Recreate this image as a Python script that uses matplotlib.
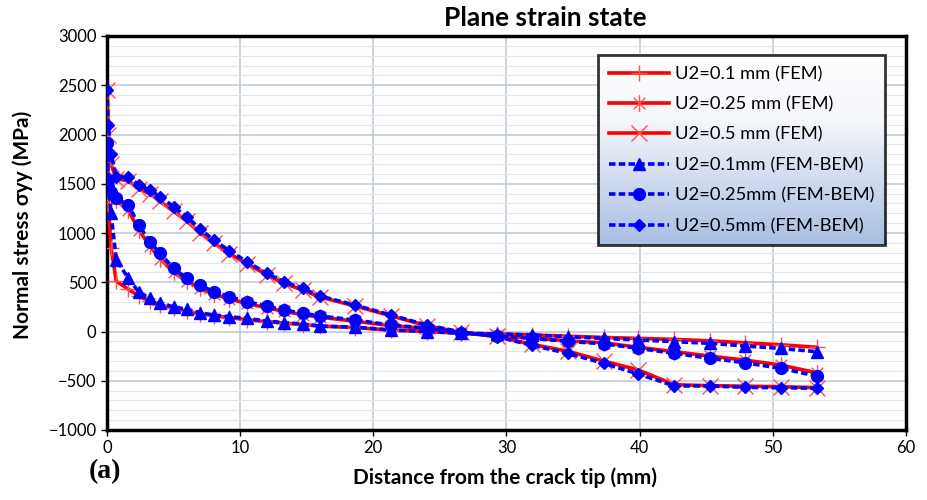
import numpy as np
import matplotlib
matplotlib.use("Agg")
import matplotlib.pyplot as plt
from matplotlib.path import Path
from matplotlib.colors import LinearSegmentedColormap

plt.rcParams["font.family"] = ["Lato", "DejaVu Sans"]

# distance from crack tip (mm)
x_mm = [0, 0.1, 0.3, 0.7, 1.6, 2.4, 3.2, 4.0, 5.0, 6.0, 7.0, 8.0, 9.2, 10.5,
        12.0, 13.3, 14.7, 16.0, 18.6, 21.3, 24.0, 26.6, 29.3, 31.9, 34.6,
        37.3, 39.9, 42.6, 45.3, 47.9, 50.6, 53.3]

# normal stress (MPa)
fem_01 = [1720, 1300, 850, 510, 430, 360, 310, 270, 235, 205, 180, 160, 140,
          120, 100, 85, 70, 55, 40, 15, 0, -18, -25, -35, -48, -60, -70, -80,
          -95, -115, -135, -160]
fem_025 = [1850, 1450, 1380, 1330, 1230, 1030, 870, 740, 600, 510, 440, 380,
           330, 285, 240, 205, 170, 145, 105, 60, 30, -15, -40, -65, -95,
           -115, -160, -205, -250, -290, -340, -420]
fem_05 = [2450, 2000, 1700, 1550, 1530, 1450, 1400, 1320, 1220, 1120, 1000,
          900, 790, 690, 575, 490, 420, 350, 260, 160, 60, -10, -50, -130,
          -200, -300, -390, -540, -550, -555, -560, -570]
bem_01 = [1790, 1540, 1200, 730, 540, 400, 340, 290, 250, 225, 190, 168, 150,
          134, 105, 90, 76, 55, 45, 15, 0, -18, -25, -36, -53, -70, -86, -103,
          -120, -147, -171, -205]
bem_025 = [1910, 1540, 1420, 1352, 1284, 1081, 912, 794, 641, 540, 472, 404,
           353, 302, 259, 218, 185, 157, 117, 66, 35, -15, -45, -70, -100,
           -125, -171, -222, -272, -317, -374, -452]
bem_05 = [2450, 2100, 1800, 1572, 1572, 1487, 1437, 1369, 1267, 1165, 1040,
          930, 820, 709, 590, 505, 437, 360, 269, 168, 66, -5, -53, -140,
          -222, -323, -431, -553, -553, -567, -570, -577]

labels = ["U2=0.1 mm (FEM)", "U2=0.25 mm (FEM)", "U2=0.5 mm (FEM)",
          "U2=0.1mm (FEM-BEM)", "U2=0.25mm (FEM-BEM)", "U2=0.5mm (FEM-BEM)"]

# Excel-like asterisk marker
asterisk = Path([(-0.7, -0.7), (0.7, 0.7), (-0.7, 0.7), (0.7, -0.7),
                 (0, -1), (0, 1)],
                [Path.MOVETO, Path.LINETO] * 3)

fig = plt.figure(figsize=(9.27, 5), dpi=100)
ax = fig.add_axes([0.1154, 0.14, 0.8619, 0.788])

red = "#ff0000"
mred = "#ff5050"
blue = "#0000ff"
dash = (0, (1.8, 0.9))

for ys, mk, lab in [(fem_01, "+", labels[0]), (fem_025, asterisk, labels[1]),
                    (fem_05, "x", labels[2])]:
    ax.plot(x_mm, ys, color=red, lw=2.6, marker=mk, markersize=12,
            markeredgecolor=mred, markerfacecolor=mred, markeredgewidth=1.0,
            label=lab, zorder=3)

for ys, mk, ms, lab in [(bem_01, "^", 8, labels[3]), (bem_025, "o", 8.5, labels[4]),
                        (bem_05, "D", 6.5, labels[5])]:
    ax.plot(x_mm, ys, color=blue, lw=2.6, ls=dash, marker=mk, markersize=ms,
            markeredgecolor=blue, markerfacecolor=blue, label=lab, zorder=3)

ax.set_xlim(0, 60)
ax.set_ylim(-1000, 3000)
ax.set_xticks(np.arange(0, 61, 10))
ax.set_yticks(np.arange(-1000, 3001, 500))
ax.set_yticks(np.arange(-1000, 3001, 100), minor=True)
ax.tick_params(axis="both", which="major", labelsize=12, length=4, width=1,
               direction="out")
ax.tick_params(axis="y", which="minor", length=0)
ax.grid(True, which="major", color="#bcc6d6", lw=1.1)
ax.grid(True, which="minor", axis="y", color="#e0e5ee", lw=0.8)
ax.set_axisbelow(True)
for sp in ax.spines.values():
    sp.set_linewidth(2.5)
    sp.set_color("black")

leg = ax.legend(loc="upper right", bbox_to_anchor=(0.974, 0.952),
                fontsize=13.2, frameon=True, fancybox=False,
                edgecolor="black", handlelength=3.3, handletextpad=0.3,
                labelspacing=0.78, borderpad=0.6, borderaxespad=0)
leg.get_frame().set_linewidth(2)
leg.get_frame().set_facecolor("none")
leg.set_zorder(6)

# gradient background behind legend
fig.canvas.draw()
bb = leg.get_window_extent().transformed(ax.transAxes.inverted())
cmap = LinearSegmentedColormap.from_list(
    "lg", [(0, "#ffffff"), (0.35, "#f4f6fa"), (1, "#a9bee2")])
grad = np.linspace(1, 0, 256).reshape(-1, 1)
ax.imshow(grad, cmap=cmap, aspect="auto", transform=ax.transAxes,
          extent=(bb.x0, bb.x1, bb.y0, bb.y1), origin="lower", zorder=5)
ax.set_xlim(0, 60)
ax.set_ylim(-1000, 3000)

fig.text(0.588, 0.964, "Plane strain state", ha="center", va="center",
         fontsize=19, fontweight="bold")
fig.text(0.545, 0.044, "Distance from the crack tip (mm)", ha="center",
         va="center", fontsize=15, fontweight="bold")
fig.text(0.025, 0.55, "Normal stress σyy (MPa)", ha="center", va="center",
         rotation=90, fontsize=15, fontweight="bold")
fig.text(0.113, 0.056, "(a)", ha="center", va="center", fontsize=20,
         fontweight="bold", family="Liberation Serif")

fig.savefig("out.png", dpi=100)
